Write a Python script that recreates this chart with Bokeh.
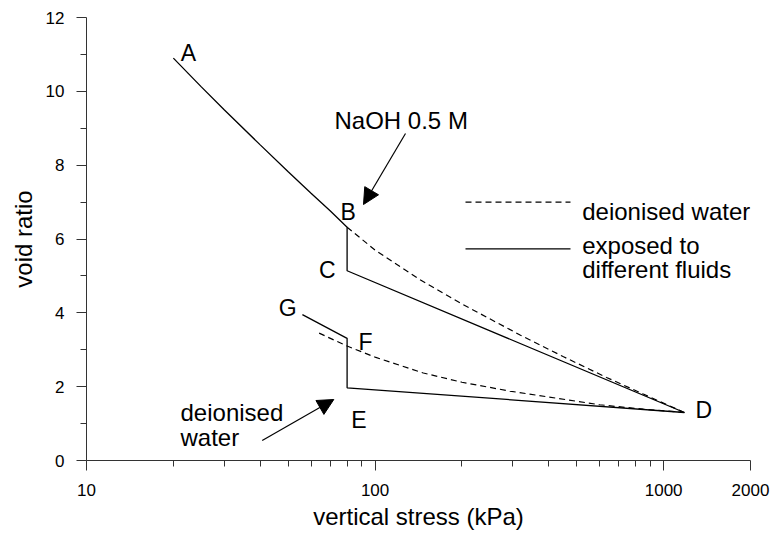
import math
from bokeh.plotting import figure
from bokeh.models import Range1d, FixedTicker, PrintfTickFormatter, Label, Arrow, NormalHead
from bokeh.embed import file_html
from bokeh.resources import INLINE

# ---------------- data ----------------
# path followed by the sample exposed to different fluids: A-B-C-D-E-F-G
stress_fluid = [20, 25, 30, 40, 50, 60, 70, 80, 80, 1180, 80, 80, 56]
void_fluid = [10.9, 10.12, 9.5, 8.55, 7.82, 7.24, 6.76, 6.32, 5.14, 1.3, 1.97, 3.31, 3.95]

# deionised water: loading branch B-D
stress_dw_load = [80, 100, 143, 200, 318, 450, 634, 850, 1180]
void_dw_load = [6.32, 5.70, 4.90, 4.24, 3.40, 2.81, 2.25, 1.80, 1.3]

# deionised water: unloading branch D-...
stress_dw_unload = [64, 80, 100, 147, 200, 293, 400, 600, 850, 1180]
void_dw_unload = [3.45, 3.10, 2.80, 2.37, 2.12, 1.88, 1.72, 1.51, 1.39, 1.3]

x_ticks = [10, 100, 1000, 2000]
x_minor = [20, 30, 40, 50, 60, 70, 80, 90, 200, 300, 400, 500, 600, 700, 800, 900]
y_ticks = [0, 2, 4, 6, 8, 10, 12]
y_minor = [1, 3, 5, 7, 9, 11]

point_names = ["A", "B", "C", "D", "E", "F", "G"]
legend_labels = ["deionised water", "exposed to", "different fluids"]

# ---------------- layout ----------------
X0, X1, Y0, Y1 = 10, 2000, 0, 12
FL, FR, FT, FB = 86, 750, 17, 460  # frame edges in page pixels


def dx(px):
    return 10 ** (math.log10(X0) + (px - FL) / (FR - FL) * (math.log10(X1) - math.log10(X0)))


def dy(py):
    return Y0 + (FB - py) / (FB - FT) * (Y1 - Y0)


FONT = "Liberation Sans"

p = figure(x_axis_type="log", x_range=Range1d(X0, X1), y_range=Range1d(Y0, Y1),
           frame_width=FR - FL, frame_height=FB - FT,
           min_border_left=FL, min_border_right=774 - FR, min_border_top=FT, min_border_bottom=534 - FB,
           output_backend="svg", toolbar_location=None,
           outline_line_color=None, background_fill_color="white", border_fill_color="white")
p.grid.visible = False

p.xaxis.ticker = FixedTicker(ticks=x_ticks, minor_ticks=x_minor)
p.xaxis.formatter = PrintfTickFormatter(format="%d")
p.yaxis.ticker = FixedTicker(ticks=y_ticks, minor_ticks=y_minor)
p.yaxis.formatter = PrintfTickFormatter(format="%d")

for ax in (p.xaxis[0], p.yaxis[0]):
    ax.axis_line_color = "#333333"
    ax.axis_line_width = 1
    ax.major_tick_line_color = "#333333"
    ax.minor_tick_line_color = "#333333"
    ax.major_tick_out = 10
    ax.major_tick_in = 0
    ax.minor_tick_out = 6
    ax.minor_tick_in = 0
    ax.major_label_text_font = FONT
    ax.major_label_text_font_size = "17px"
    ax.major_label_text_color = "black"
    ax.axis_label_text_font = FONT
    ax.axis_label_text_font_size = "24px"
    ax.axis_label_text_font_style = "normal"
    ax.axis_label_text_color = "black"

p.xaxis.axis_label = "vertical stress (kPa)"
p.yaxis.axis_label = "void ratio"
p.xaxis.major_label_standoff = 13
p.xaxis.axis_label_standoff = 4
p.yaxis.major_label_standoff = 12
p.yaxis.axis_label_standoff = 6

# ---------------- curves ----------------
p.line(stress_fluid, void_fluid, line_color="black", line_width=1.3)
p.line(stress_dw_load, void_dw_load, line_color="black", line_width=1.2, line_dash="6 4")
p.line(stress_dw_unload, void_dw_unload, line_color="black", line_width=1.2, line_dash="6 4")

# ---------------- point letters ----------------
letter_px = [(188, 52.7), (347.7, 211.7), (326.7, 269), (703.3, 409), (358.3, 419), (365, 341), (287.3, 307.3)]
for name, (lx, ly) in zip(point_names, letter_px):
    p.add_layout(Label(x=dx(lx), y=dy(ly), text=name, text_align="center", text_baseline="alphabetic",
                       text_font=FONT, text_font_size="23px", text_color="black"))

# ---------------- annotations ----------------
p.add_layout(Label(x=dx(334), y=dy(120), text="NaOH 0.5 M", text_align="left", text_baseline="alphabetic",
                   text_font=FONT, text_font_size="24px", text_color="black"))
p.add_layout(Arrow(x_start=dx(405), y_start=dy(133), x_end=dx(363), y_end=dy(204),
                   line_color="black", line_width=1.2,
                   end=NormalHead(size=16, fill_color="black", line_color="black")))

p.add_layout(Label(x=dx(180), y=dy(411.7), text="deionised", text_align="left", text_baseline="alphabetic",
                   text_font=FONT, text_font_size="24px", text_color="black"))
p.add_layout(Label(x=dx(180), y=dy(437.3), text="water", text_align="left", text_baseline="alphabetic",
                   text_font=FONT, text_font_size="24px", text_color="black"))
p.add_layout(Arrow(x_start=dx(261.7), y_start=dy(440), x_end=dx(333.3), y_end=dy(399),
                   line_color="black", line_width=1.2,
                   end=NormalHead(size=16, fill_color="black", line_color="black")))

# ---------------- legend ----------------
p.add_layout(Arrow(x_start=dx(465), y_start=dy(201.7), x_end=dx(570), y_end=dy(201.7), end=None,
                   line_color="black", line_width=1.2, line_dash="6 4"))
p.add_layout(Arrow(x_start=dx(465), y_start=dy(248.3), x_end=dx(570), y_end=dy(248.3), end=None,
                   line_color="black", line_width=1.3))
for txt, by in zip(legend_labels, [211, 245, 268.5]):
    p.add_layout(Label(x=dx(581.7), y=dy(by), text=txt, text_align="left", text_baseline="alphabetic",
                       text_font=FONT, text_font_size="24px", text_color="black"))

open("out.html", "w").write(file_html(p, INLINE))
